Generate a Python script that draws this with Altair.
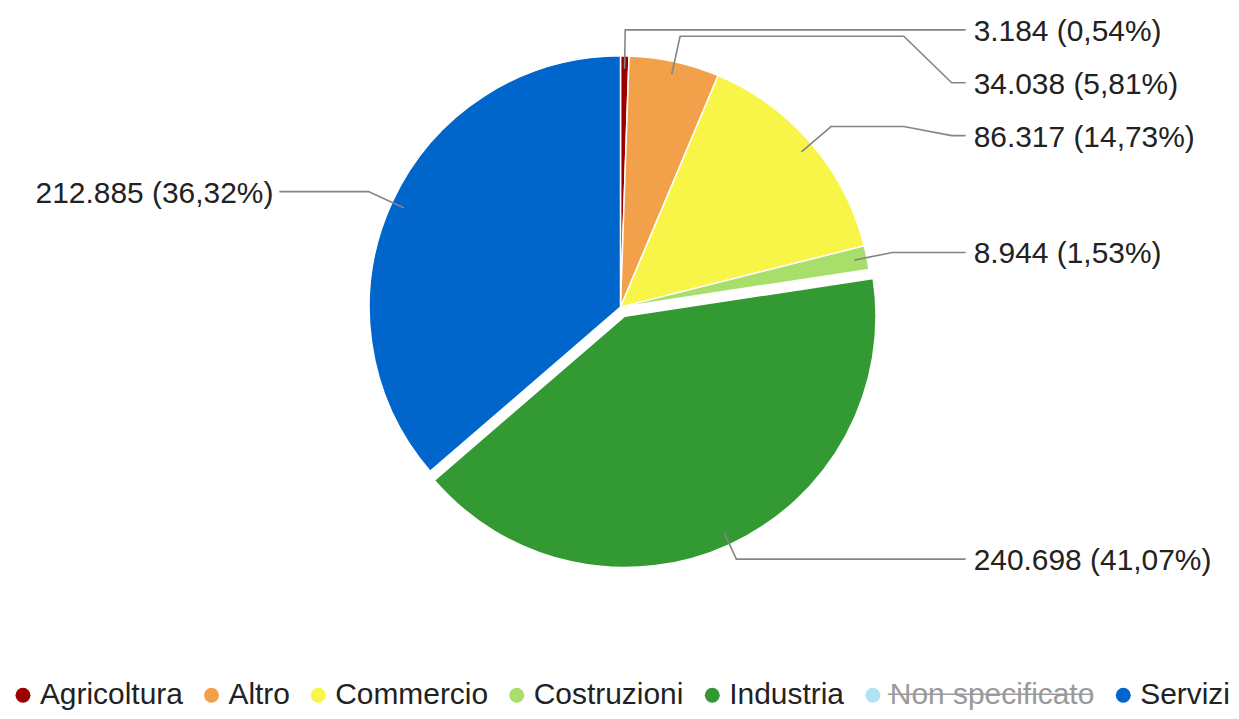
import math
import altair as alt
import pandas as pd

# ---- data ----
categories = ["Agricoltura", "Altro", "Commercio", "Costruzioni", "Industria", "Servizi"]
values = [3184, 34038, 86317, 8944, 240698, 212885]
legend_categories = ["Agricoltura", "Altro", "Commercio", "Costruzioni", "Industria",
                     "Non specificato", "Servizi"]
legend_colors = ["#990000", "#f2a04a", "#f9f548", "#a8df6a", "#339933", "#aee3f4", "#0066cc"]
exploded = "Industria"
hidden = "Non specificato"

# ---- layout (pixels) ----
W, H = 1223, 703
CX, CY = 614, 299
R = 252
EXPLODE = 10
START_PX, ELBOW_PX = 239, 278
H_END_PX, DIAG_END_PX = 284, 332
LINE_END_R_PX, LINE_END_L_PX = 346, 342
TEXT_R_PX, TEXT_L_PX = 354, 348
GAP_PX = 53
FONT = "Liberation Sans"
LEGEND_X, LEGEND_Y = 0, 673
STRIKE_X0, STRIKE_X1, STRIKE_Y = 882, 1085, 687   # plot pixels, over the hidden entry

total = sum(values)


def it_num(v):
    return f"{v:,}".replace(",", ".")


def it_pct(p):
    return f"{p:.2f}".replace(".", ",")


pie_rows, line_rows, label_rows = [], [], []
cum = 0
geo = []
for i, (c, v) in enumerate(zip(categories, values)):
    a0 = cum / total * 2 * math.pi
    cum += v
    a1 = cum / total * 2 * math.pi
    mid = (a0 + a1) / 2
    s, d = math.sin(mid), -math.cos(mid)
    ex = EXPLODE if c == exploded else 0.0
    side = 1 if s >= 0 else -1
    geo.append(dict(c=c, v=v, i=i, s=s, d=d, ex=ex, side=side, ideal=d * ELBOW_PX))
    pie_rows.append(dict(category=c, value=v, order=i))

# push labels apart on each side
for side in (1, -1):
    items = sorted([g for g in geo if g["side"] == side], key=lambda g: g["ideal"])
    prev = None
    for g in items:
        y = g["ideal"] if prev is None else max(g["ideal"], prev + GAP_PX)
        g["ly"] = y
        prev = y

for g in geo:
    side = g["side"]
    pts = [
        (g["s"] * (START_PX + g["ex"]), g["d"] * (START_PX + g["ex"])),
        (g["s"] * ELBOW_PX, g["d"] * ELBOW_PX),
        (side * H_END_PX, g["d"] * ELBOW_PX),
        (side * DIAG_END_PX, g["ly"]),
        (side * (LINE_END_R_PX if side > 0 else LINE_END_L_PX), g["ly"]),
    ]
    for k, (x, y) in enumerate(pts):
        line_rows.append(dict(category=g["c"], pt=k, x=x / R, y=y / R))
    label_rows.append(dict(category=g["c"], side=side,
                           x=side * (TEXT_R_PX if side > 0 else TEXT_L_PX) / R, y=g["ly"] / R,
                           label=f"{it_num(g['v'])} ({it_pct(g['v'] / total * 100)}%)"))

pie_df = pd.DataFrame(pie_rows)
line_df = pd.DataFrame(line_rows)
label_df = pd.DataFrame(label_rows)
strike_df = pd.DataFrame([dict(category=hidden,
                               x=(STRIKE_X0 - CX) / R, x2=(STRIKE_X1 - CX) / R,
                               y=(STRIKE_Y - CY) / R)])

xs = alt.Scale(domain=[-CX / R, (W - CX) / R], nice=False, zero=False)
ys = alt.Scale(domain=[-CY / R, (H - CY) / R], nice=False, zero=False, reverse=True)
theta_scale = alt.Scale(domain=[0, total])

color = alt.Color(
    "category:N",
    scale=alt.Scale(domain=legend_categories, range=legend_colors),
    legend=alt.Legend(
        orient="none", legendX=LEGEND_X, legendY=LEGEND_Y, direction="horizontal", columns=7,
        title=None, labelFontSize=30, labelFont=FONT,
        labelColor=alt.ExprRef("datum.label === 'Non specificato' ? '#9a9a9a' : '#222222'"),
        symbolType="circle", symbolSize=225, symbolStrokeWidth=0, labelOffset=2,
        columnPadding=13, padding=0, labelLimit=400,
    ),
)

base = (
    alt.Chart(pie_df)
    .transform_window(cum="sum(value)", sort=[alt.SortField("order")], frame=[None, 0])
    .transform_calculate(start="datum.cum - datum.value")
)

enc = dict(
    theta=alt.Theta("start:Q", scale=theta_scale),
    theta2="cum:Q",
    color=color,
    x=alt.XDatum(0.0, type="quantitative", scale=xs, axis=None),
    y=alt.YDatum(0.0, type="quantitative", scale=ys, axis=None),
    tooltip=["category:N", "value:Q"],
)

arcs = base.transform_filter(alt.datum.category != exploded).mark_arc(
    radius=R, stroke="white", strokeWidth=1.5
).encode(**enc)

g_ex = [g for g in geo if g["c"] == exploded][0]
arc_ex = base.transform_filter(alt.datum.category == exploded).mark_arc(
    radius=R, stroke="white", strokeWidth=1.5,
    xOffset=EXPLODE * g_ex["s"], yOffset=EXPLODE * g_ex["d"]
).encode(**enc)

lines = alt.Chart(line_df).mark_line(color="#858585", strokeWidth=1.6).encode(
    x=alt.X("x:Q", scale=xs, axis=None),
    y=alt.Y("y:Q", scale=ys, axis=None),
    detail="category:N",
    order="pt:Q",
)

txt_r = alt.Chart(label_df).transform_filter(alt.datum.side > 0).mark_text(
    align="left", baseline="middle", fontSize=30, font=FONT, color="#222222", dy=2
).encode(
    x=alt.X("x:Q", scale=xs, axis=None),
    y=alt.Y("y:Q", scale=ys, axis=None),
    text="label:N",
)
txt_l = alt.Chart(label_df).transform_filter(alt.datum.side < 0).mark_text(
    align="right", baseline="middle", fontSize=30, font=FONT, color="#222222", dy=2
).encode(
    x=alt.X("x:Q", scale=xs, axis=None),
    y=alt.Y("y:Q", scale=ys, axis=None),
    text="label:N",
)

strike = alt.Chart(strike_df).mark_rule(color="#9a9a9a", strokeWidth=1.5).encode(
    x=alt.X("x:Q", scale=xs, axis=None),
    x2="x2:Q",
    y=alt.Y("y:Q", scale=ys, axis=None),
)

chart = (
    alt.layer(arcs, arc_ex, lines, txt_r, txt_l, strike)
    .properties(width=W, height=H, padding=0, background="white")
    .configure_view(stroke=None)
)

chart.save("out.html", embed_options={"renderer": "svg", "actions": False})
